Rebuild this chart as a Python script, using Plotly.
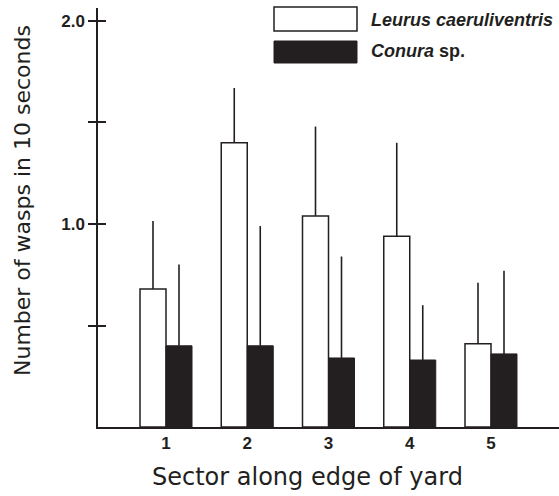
import plotly.graph_objects as go

sectors = [1, 2, 3, 4, 5]
sector_labels = ["1", "2", "3", "4", "5"]
leurus_mean = [0.68, 1.40, 1.04, 0.94, 0.41]
leurus_err = [0.335, 0.27, 0.44, 0.46, 0.30]
conura_mean = [0.40, 0.40, 0.34, 0.33, 0.36]
conura_err = [0.40, 0.59, 0.50, 0.27, 0.41]
ytick_vals = [0.5, 1.0, 1.5, 2.0]
ytick_text = ["", "1.0", "", "2.0"]
x_title = "Sector along edge of yard"
y_title = "Number of wasps in 10 seconds"

INK = "#231f20"

fig = go.Figure()
fig.add_trace(go.Bar(
    x=sectors, y=leurus_mean, name="Leurus caeruliventris",
    marker=dict(color="white", line=dict(color=INK, width=1.5)),
    error_y=dict(type="data", symmetric=False, array=leurus_err,
                 arrayminus=[0] * len(leurus_err), width=0, thickness=1.6, color=INK),
))
fig.add_trace(go.Bar(
    x=sectors, y=conura_mean, name="Conura sp.",
    marker=dict(color=INK, line=dict(color=INK, width=1)),
    error_y=dict(type="data", symmetric=False, array=conura_err,
                 arrayminus=[0] * len(conura_err), width=0, thickness=1.6, color=INK),
))
# invisible trace for the overlay axis (inner half of crossing ticks)
fig.add_trace(go.Scatter(x=[sectors[0]], y=[0], yaxis="y2", mode="markers",
                         marker=dict(opacity=0), showlegend=False, hoverinfo="skip"))

tickfont = dict(family="Liberation Sans, Arial", size=17, color=INK, weight="bold")

fig.update_layout(
    width=559, height=496,
    margin=dict(l=98, r=0, t=8, b=69, autoexpand=False),
    paper_bgcolor="white", plot_bgcolor="white",
    barmode="group", bargap=0.36, bargroupgap=0,
    showlegend=False,
    xaxis=dict(range=[0.163, 5.837], tickvals=sectors, ticktext=sector_labels,
               showgrid=False, zeroline=False, showline=True, linecolor=INK, linewidth=1.5,
               ticks="", tickfont=tickfont, automargin=False),
    yaxis=dict(range=[0, 2.064], tickvals=ytick_vals, ticktext=ytick_text,
               showgrid=False, zeroline=False, showline=True, linecolor=INK, linewidth=1.5,
               ticks="outside", ticklen=8, tickwidth=1.5, tickcolor=INK, tickfont=tickfont,
               automargin=False),
    yaxis2=dict(overlaying="y", matches="y", range=[0, 2.064], tickvals=ytick_vals,
                showticklabels=False, ticks="inside", ticklen=8, tickwidth=1.5, tickcolor=INK,
                showgrid=False, zeroline=False, showline=False, side="left", automargin=False),
)

def px_x(p):
    return (p - 98) / 461.0

def px_y(p):
    return (427 - p) / 419.0

# axis titles
fig.add_annotation(xref="paper", yref="paper", x=px_x(307), y=px_y(477),
                   text=x_title, showarrow=False, xanchor="center", yanchor="middle",
                   font=dict(family="DejaVu Sans", size=24, color=INK))
fig.add_annotation(xref="paper", yref="paper", x=px_x(22), y=px_y(201),
                   text=y_title, showarrow=False, xanchor="center", yanchor="middle",
                   textangle=-90, font=dict(family="DejaVu Sans", size=22, color=INK))

# legend drawn as boxes + text in paper coordinates
fig.add_shape(type="rect", xref="paper", yref="paper",
              x0=px_x(274), x1=px_x(357), y0=px_y(31), y1=px_y(7),
              line=dict(color=INK, width=1.5), fillcolor="white")
fig.add_shape(type="rect", xref="paper", yref="paper",
              x0=px_x(274), x1=px_x(357), y0=px_y(63), y1=px_y(41),
              line=dict(color=INK, width=1), fillcolor=INK)
legfont = dict(family="Liberation Sans, Arial", size=18, color=INK, weight="bold")
fig.add_annotation(xref="paper", yref="paper", x=px_x(369), y=px_y(20),
                   text="<i>Leurus caeruliventris</i>", showarrow=False,
                   xanchor="left", yanchor="middle", font=legfont)
fig.add_annotation(xref="paper", yref="paper", x=px_x(369), y=px_y(51),
                   text="<i>Conura</i> sp.", showarrow=False,
                   xanchor="left", yanchor="middle", font=legfont)

fig.write_html("out.html",
               config={"displayModeBar": False},
               post_script="document.body.style.margin='0';document.body.style.overflow='hidden';")
